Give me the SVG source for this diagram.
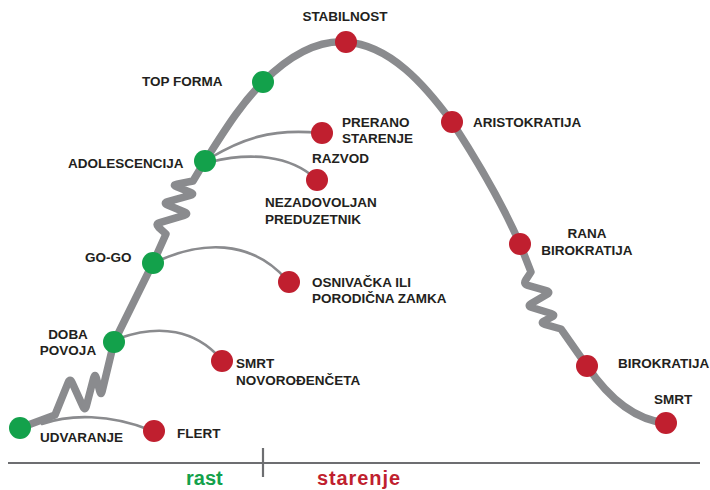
<svg xmlns="http://www.w3.org/2000/svg" width="710" height="490" viewBox="0 0 710 490">
  <style>
    .life { fill: none; stroke: #8a8b8e; stroke-width: 7.5; stroke-linejoin: round; stroke-linecap: round; }
    .branch { fill: none; stroke: #8a8b8e; stroke-width: 2.6; stroke-linecap: round; }
    .axis { fill: none; stroke: #6d6e71; stroke-width: 2.2; }
    .grow { fill: #13a14b; }
    .age { fill: #c01f2f; }
    .lbl { font-family: "Liberation Sans", Arial, sans-serif; font-weight: bold; font-size: 13.5px; fill: #231f20; }
    .phase { font-family: "Liberation Sans", Arial, sans-serif; font-weight: bold; font-size: 20px; }
  </style>

  <g id="connectors">
    <!-- main lifecycle curve with the three springs -->
    <path class="life" d="M20,428 L55,415
      L68.1,382.6 Q70,378 72.1,382.6 L82.9,406.4 Q85,411 86.3,406.2 L93.7,377.8 Q95,373 96.3,377.8 L99.7,391.2 Q101,396 102.2,391.1
      L114,342 L153,263 L166,234
      L158.7,227.4 Q155,224 159.8,222.6 L184.2,215.4 Q189,214 184.4,212 L167.6,205 Q163,203 167.8,201.6 L190.2,195.4 Q195,194 190.3,192.2 L176.7,186.8 Q172,185 176.9,184.1
      L193,181 L205,161
      C225,130 240,105 263,82 C290,55 318,40 346,42 C390,45 425,85 452,122 C480,165 505,210 520,244 L531,272
      L525.8,279.8 Q523,284 527.8,285.4 L546.2,290.6 Q551,292 546.7,294.5 L531.3,303.5 Q527,306 531.8,307.5 L551.2,313.5 Q556,315 551.5,317.2 L544.5,320.8 Q540,323 544.8,324.4
      L561,329 L587,366 C610,400 635,420 666,423"/>
    <!-- side branches -->
    <path class="branch" d="M42,424 C70,414 110,414 150,430"/>
    <path class="branch" d="M120,338 C160,324 195,330 220,358"/>
    <path class="branch" d="M158,261 C200,242 250,238 287,280"/>
    <path class="branch" d="M210,158 C240,140 270,128 320,133"/>
    <path class="branch" d="M210,162 C250,152 290,155 316,179"/>
  </g>

  <!-- growth stages -->
  <g id="udvaranje"><circle class="grow" cx="20" cy="428" r="11"/><text class="lbl" x="40" y="442">UDVARANJE</text></g>
  <g id="doba-povoja"><circle class="grow" cx="114" cy="342" r="11"/><text class="lbl" x="68" y="339" text-anchor="middle">DOBA</text><text class="lbl" x="68" y="355" text-anchor="middle">POVOJA</text></g>
  <g id="go-go"><circle class="grow" cx="153" cy="263" r="11"/><text class="lbl" x="85" y="262">GO-GO</text></g>
  <g id="adolescencija"><circle class="grow" cx="205" cy="161" r="11"/><text class="lbl" x="68" y="168">ADOLESCENCIJA</text></g>
  <g id="top-forma"><circle class="grow" cx="263" cy="82" r="11"/><text class="lbl" x="142" y="86">TOP FORMA</text></g>

  <!-- aging stages -->
  <g id="stabilnost"><circle class="age" cx="346" cy="42" r="11"/><text class="lbl" x="345" y="21" text-anchor="middle">STABILNOST</text></g>
  <g id="aristokratija"><circle class="age" cx="452" cy="122" r="11"/><text class="lbl" x="473" y="127">ARISTOKRATIJA</text></g>
  <g id="rana-birokratija"><circle class="age" cx="520" cy="244" r="11"/><text class="lbl" x="587" y="238" text-anchor="middle">RANA</text><text class="lbl" x="587" y="255" text-anchor="middle">BIROKRATIJA</text></g>
  <g id="birokratija"><circle class="age" cx="587" cy="366" r="11"/><text class="lbl" x="618" y="368">BIROKRATIJA</text></g>
  <g id="smrt"><circle class="age" cx="666" cy="423" r="11"/><text class="lbl" x="654" y="404">SMRT</text></g>

  <!-- pathologies -->
  <g id="flert"><circle class="age" cx="154" cy="431" r="11"/><text class="lbl" x="177" y="438">FLERT</text></g>
  <g id="smrt-novorodjenceta"><circle class="age" cx="222" cy="361" r="11"/><text class="lbl" x="236" y="368">SMRT</text><text class="lbl" x="236" y="385">NOVOROĐENČETA</text></g>
  <g id="osnivacka-zamka"><circle class="age" cx="289" cy="282" r="11"/><text class="lbl" x="312" y="287">OSNIVAČKA ILI</text><text class="lbl" x="312" y="303">PORODIČNA ZAMKA</text></g>
  <g id="prerano-starenje"><circle class="age" cx="322" cy="133" r="11"/><text class="lbl" x="342" y="127">PRERANO</text><text class="lbl" x="342" y="143">STARENJE</text></g>
  <g id="razvod"><circle class="age" cx="317" cy="180" r="11"/><text class="lbl" x="312" y="163">RAZVOD</text><text class="lbl" x="265" y="207">NEZADOVOLJAN</text><text class="lbl" x="265" y="224">PREDUZETNIK</text></g>

  <!-- time axis -->
  <g id="axis">
    <line class="axis" x1="8" y1="463" x2="700" y2="463"/>
    <line class="axis" x1="263" y1="448" x2="263" y2="477"/>
    <text class="phase" x="186" y="485" fill="#13a14b">rast</text>
    <text class="phase" x="317" y="485" fill="#c01f2f" textLength="83">starenje</text>
  </g>
</svg>
